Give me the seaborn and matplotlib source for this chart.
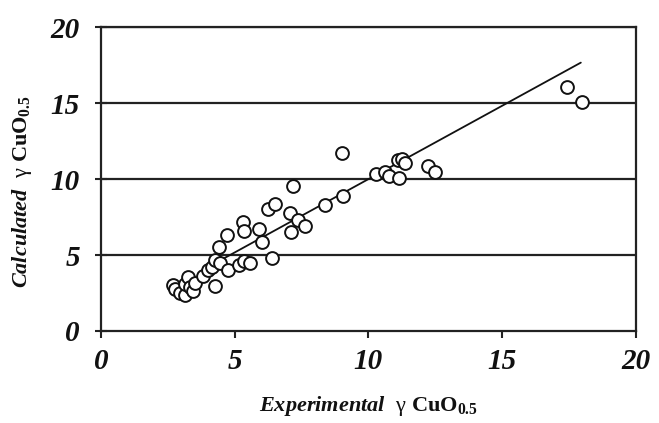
import matplotlib
matplotlib.use('Agg')
import matplotlib.pyplot as plt
import numpy as np
import pandas as pd
import seaborn as sns

# experimental vs calculated activity coefficient of CuO0.5
experimental = [2.68, 2.77, 2.95, 3.14, 3.14, 3.24, 3.35, 3.45, 3.51, 3.83,
                4.01, 4.14, 4.28, 4.42, 4.28, 4.47, 4.76, 4.70, 5.17, 5.35,
                5.58, 5.30, 5.35, 5.92, 6.01, 6.40, 6.26, 6.50, 7.17, 7.07,
                7.38, 7.63, 7.09, 8.37, 9.06, 9.03, 10.28, 10.62, 10.78, 11.11,
                11.24, 11.36, 11.15, 12.24, 12.49, 17.41, 17.99]
calculated = [3.03, 2.74, 2.50, 2.37, 3.07, 3.57, 2.90, 2.65, 3.19, 3.65,
              4.01, 4.23, 2.94, 5.53, 4.70, 4.47, 4.01, 6.35, 4.36, 4.60,
              4.48, 7.19, 6.60, 6.71, 5.88, 4.78, 8.00, 8.36, 9.54, 7.74,
              7.30, 6.91, 6.53, 8.29, 8.86, 11.69, 10.31, 10.48, 10.20, 11.25,
              11.30, 11.07, 10.05, 10.86, 10.48, 16.03, 15.07]

# trend line drawn in the original
fit_x = [4.0, 17.94]
fit_y = [4.20, 17.66]

ticks = [0, 5, 10, 15, 20]

sns.set_style('white')
plt.rcParams['font.family'] = ['Liberation Serif', 'DejaVu Serif']
plt.rcParams['mathtext.fontset'] = 'custom'
plt.rcParams['mathtext.rm'] = 'Liberation Serif'
plt.rcParams['mathtext.it'] = 'Liberation Serif:italic:bold'
plt.rcParams['mathtext.bf'] = 'Liberation Serif:bold'
plt.rcParams['text.color'] = '#111111'
plt.rcParams['axes.labelcolor'] = '#111111'
plt.rcParams['xtick.labelcolor'] = '#111111'
plt.rcParams['ytick.labelcolor'] = '#111111'

df = pd.DataFrame({'exp': experimental, 'calc': calculated})
fit = pd.DataFrame({'x': fit_x, 'y': fit_y})

fig = plt.figure(figsize=(6.59, 4.23), dpi=100)
ax = fig.add_axes([0.153, 0.2175, 0.812, 0.7185])

# horizontal grid lines
for t in ticks[1:]:
    ax.axhline(t, color='#222222', lw=1.6, zorder=1)

sns.lineplot(data=fit, x='x', y='y', color='#111111', lw=1.3, ax=ax, zorder=2)
sns.scatterplot(data=df, x='exp', y='calc', s=85, marker='o', facecolor='white',
                edgecolor='#111111', linewidth=1.4, ax=ax, zorder=3)

ax.set_xlim(0, 20)
ax.set_ylim(0, 20)
ax.set_xticks(ticks)
ax.set_yticks(ticks)
ax.set_xticklabels([str(t) for t in ticks], fontsize=21, fontweight='bold', fontstyle='italic')
ax.set_yticklabels([str(t) for t in ticks], fontsize=21, fontweight='bold', fontstyle='italic')
ax.tick_params(axis='x', direction='out', length=5, width=1.5, color='#222222', pad=7)
ax.tick_params(axis='y', direction='inout', length=8, width=1.5, color='#222222', pad=11)
ax.xaxis.set_ticks_position('bottom')
ax.yaxis.set_ticks_position('left')

for side in ['left', 'right', 'bottom', 'top']:
    ax.spines[side].set_color('#222222')
    ax.spines[side].set_linewidth(1.6)

ax.set_xlabel(r'$\mathit{Experimental}\ \ \mathrm{\gamma}\ \mathbf{CuO}_{\mathbf{0.5}}$', fontsize=16, labelpad=14)
ax.set_ylabel(r'$\mathit{Calculated}\ \ \mathrm{\gamma}\ \mathbf{CuO}_{\mathbf{0.5}}$', fontsize=16)
ax.yaxis.set_label_coords(-0.125, 0.46)

fig.savefig('out.png', dpi=100)
